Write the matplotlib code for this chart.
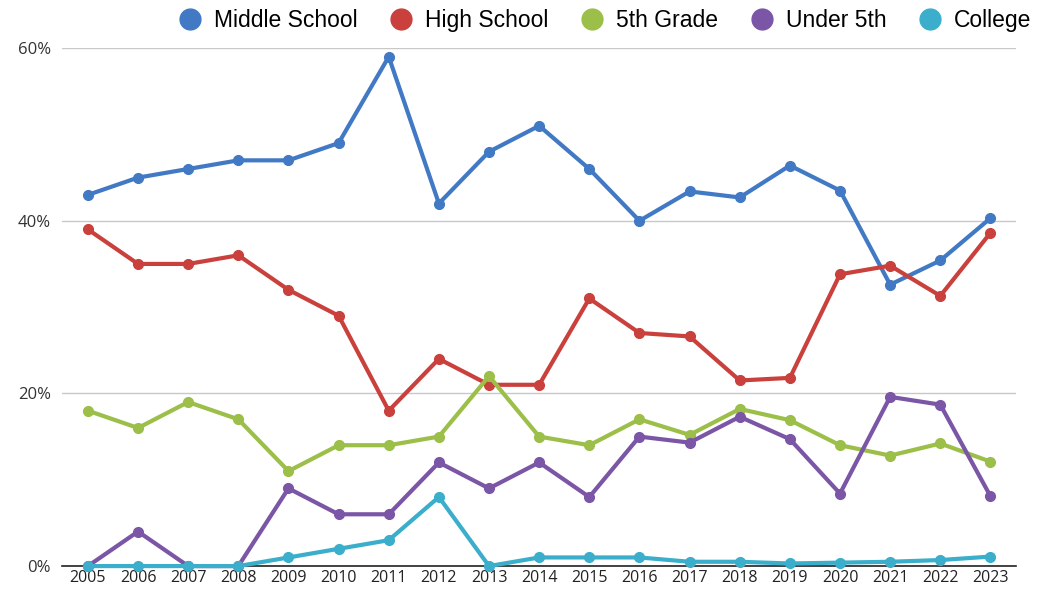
import numpy as np
from matplotlib import pyplot as plt

years = list(range(2005, 2024))
middle_school = [43, 45, 46, 47, 47, 49, 59, 42, 48, 51, 46, 40, 43.4, 42.7, 46.4, 43.5, 32.6, 35.4, 40.3]
high_school = [39, 35, 35, 36, 32, 29, 18, 24, 21, 21, 31, 27, 26.6, 21.5, 21.8, 33.8, 34.8, 31.3, 38.6]
fifth_grade = [18, 16, 19, 17, 11, 14, 14, 15, 22, 15, 14, 17, 15.2, 18.2, 16.9, 14, 12.8, 14.2, 12.1]
under_fifth = [0, 4, 0, 0, 9, 6, 6, 12, 9, 12, 8, 15, 14.3, 17.3, 14.7, 8.4, 19.6, 18.7, 8.1]
college = [0, 0, 0, 0, 1, 2, 3, 8, 0, 1, 1, 1, 0.5, 0.5, 0.3, 0.4, 0.5, 0.7, 1.1]

series = [("Middle School", middle_school, "#4279c4"),
          ("High School", high_school, "#c9403c"),
          ("5th Grade", fifth_grade, "#9bbf48"),
          ("Under 5th", under_fifth, "#7b55a6"),
          ("College", college, "#3aaecb")]

fig = plt.figure(figsize=(10.48, 5.94), dpi=100)
ax = fig.add_axes([0.059, 0.047, 0.91, 0.872])

x = np.arange(len(years))
for name, vals, col in series:
    ax.plot(x, vals, color=col, lw=3, marker='o', ms=7, label=name, clip_on=False, zorder=3)

ax.set_ylim(0, 60)
ax.set_xlim(-0.52, 18.5)
ax.set_yticks([0, 20, 40, 60])
ax.set_yticklabels(["0%", "20%", "40%", "60%"], fontsize=12, family="Open Sans", color="#333333")
ax.set_xticks(x)
ax.set_xticklabels([str(y) for y in years], fontsize=11.5, family="Open Sans", color="#222222")
ax.tick_params(length=0, pad=3)
ax.tick_params(axis='y', pad=8)
ax.grid(axis='y', color="#c8c8c8", lw=1)
ax.set_axisbelow(True)
for s in ["top", "right", "left"]:
    ax.spines[s].set_visible(False)
ax.spines["bottom"].set_color("#222222")
ax.spines["bottom"].set_linewidth(1.2)
ax.spines["bottom"].set_zorder(2)

handles = [plt.Line2D([], [], ls='none', marker='o', ms=15, color=c) for _, _, c in series]
fig.legend(handles, [n for n, _, _ in series], loc="upper right", bbox_to_anchor=(1.004, 1.02),
           ncol=5, frameon=False, prop={"family": "Liberation Sans", "size": 16.5},
           handletextpad=0.55, columnspacing=1.4, handlelength=1.0)

fig.savefig("out.png", dpi=100)
